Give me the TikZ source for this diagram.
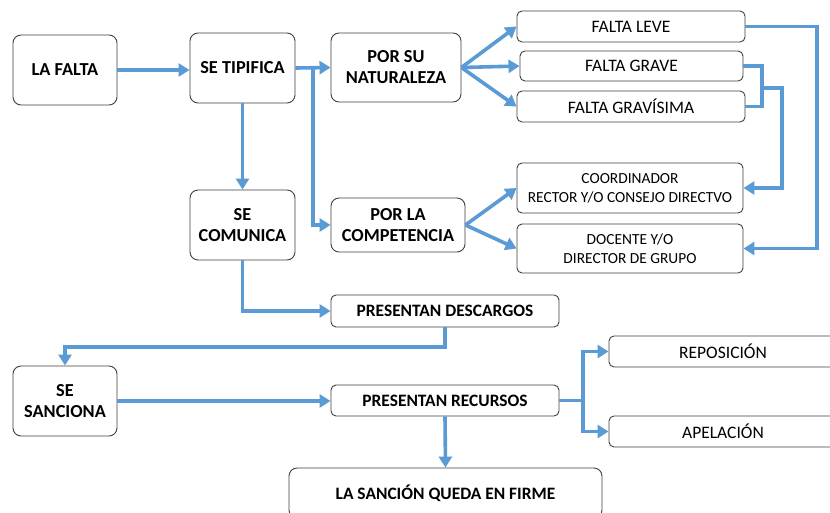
\documentclass[tikz,border=0pt]{standalone}
\usepackage{fontspec}
\setmainfont{Carlito}
\usetikzlibrary{arrows.meta,calc}
\definecolor{arrowblue}{HTML}{5B9BD5}
\definecolor{boxgray}{HTML}{404040}
\begin{document}
\begin{tikzpicture}[x=1pt,y=-1pt,
  box/.style={draw=boxgray,line width=0.9pt,rounded corners=8pt,align=center,inner sep=0pt,
    font=\bfseries\fontsize{18.3}{21}\selectfont},
  sbox/.style={draw=boxgray,line width=0.9pt,rounded corners=5pt,align=center,inner sep=0pt,
    font=\fontsize{17.5}{20}\selectfont},
  tbox/.style={sbox,font=\fontsize{15.4}{19}\selectfont},
  mbox/.style={box,rounded corners=5pt,font=\bfseries\fontsize{17.4}{20}\selectfont},
  arr/.style={draw=arrowblue,line width=3.6pt,-{Triangle[length=11pt,width=13pt]}},
  ln/.style={draw=arrowblue,line width=3.6pt}]
\useasboundingbox (0,0) rectangle (830,512);
\fill[white] (0,0) rectangle (830,512);
% nodes
\node[box,minimum width=104pt,minimum height=70pt] (falta) at (65,70) {LA FALTA};
\node[box,minimum width=105pt,minimum height=70pt] (tipifica) at (242.5,68) {SE TIPIFICA};
\node[box,minimum width=130pt,minimum height=69pt] (naturaleza) at (396,67.5) {POR SU\\NATURALEZA};
\node[box,minimum width=105pt,minimum height=70pt] (comunica) at (242.5,225) {SE\\COMUNICA};
\node[box,minimum width=134pt,minimum height=54pt] (competencia) at (398,225) {POR LA\\COMPETENCIA};
\node[sbox,minimum width=228pt,minimum height=31pt] (leve) at (631,26.5) {FALTA LEVE};
\node[sbox,minimum width=223pt,minimum height=30pt] (grave) at (631.5,66) {FALTA GRAVE};
\node[sbox,minimum width=228pt,minimum height=31pt] (gravisima) at (631,106.5) {FALTA GRAVÍSIMA};
\node[tbox,minimum width=226pt,minimum height=50pt] (coord) at (630,188) {COORDINADOR\\RECTOR Y/O CONSEJO DIRECTVO};
\node[tbox,minimum width=226pt,minimum height=49pt] (docente) at (630,248.5) {DOCENTE Y/O\\DIRECTOR DE GRUPO};
\node[mbox,minimum width=228pt,minimum height=32pt] (descargos) at (445,311) {PRESENTAN DESCARGOS};
\node[box,minimum width=104pt,minimum height=70pt] (sanciona) at (65,401) {SE\\SANCIONA};
\node[mbox,minimum width=228pt,minimum height=31pt] (recursos) at (445,400.5) {PRESENTAN RECURSOS};
\node[box,font=\bfseries\fontsize{17.4}{20}\selectfont,minimum width=313pt,minimum height=50pt] (sancion) at (445.5,493) {LA SANCIÓN QUEDA EN FIRME};
\node[sbox,minimum width=228pt,minimum height=31pt] (reposicion) at (723,351.5) {REPOSICIÓN};
\node[sbox,minimum width=228pt,minimum height=31pt] (apelacion) at (723,431.5) {APELACIÓN};
% helper coordinates
\coordinate (b1) at (313,68);
\coordinate (j1) at (762,88);
\coordinate (b2) at (583,400.5);
% connectors
\draw[arr] (falta.east) -- (falta.east -| tipifica.west);
\draw[arr] (tipifica.east) -- (naturaleza.west);
\draw[arr] (b1) |- (competencia.west);
\draw[arr] (tipifica.south) -- (comunica.north);
\draw[arr] (naturaleza.east) -- (leve.west);
\draw[arr] (naturaleza.east) -- (grave.west);
\draw[arr] (naturaleza.east) -- (gravisima.west);
\draw[arr] (competencia.east) -- (coord.west);
\draw[arr] (competencia.east) -- (docente.west);
\draw[arr] (leve.east) -- (817,26.5) |- (docente.east);
\draw[ln] (grave.east) -| (j1);
\draw[ln] (gravisima.east) -| (j1);
\draw[arr] (j1) -- (782,88) |- (coord.east);
\draw[arr] (comunica.south) |- (descargos.west);
\draw[arr] (descargos.south) -- (445,347) -| (sanciona.north);
\draw[arr] (sanciona.east) -- (sanciona.east -| recursos.west);
\draw[ln] (recursos.east) -- (b2);
\draw[arr] (b2) |- (reposicion.west);
\draw[arr] (b2) |- (apelacion.west);
\draw[arr] (recursos.south) -- (sancion.north);
\end{tikzpicture}
\end{document}
